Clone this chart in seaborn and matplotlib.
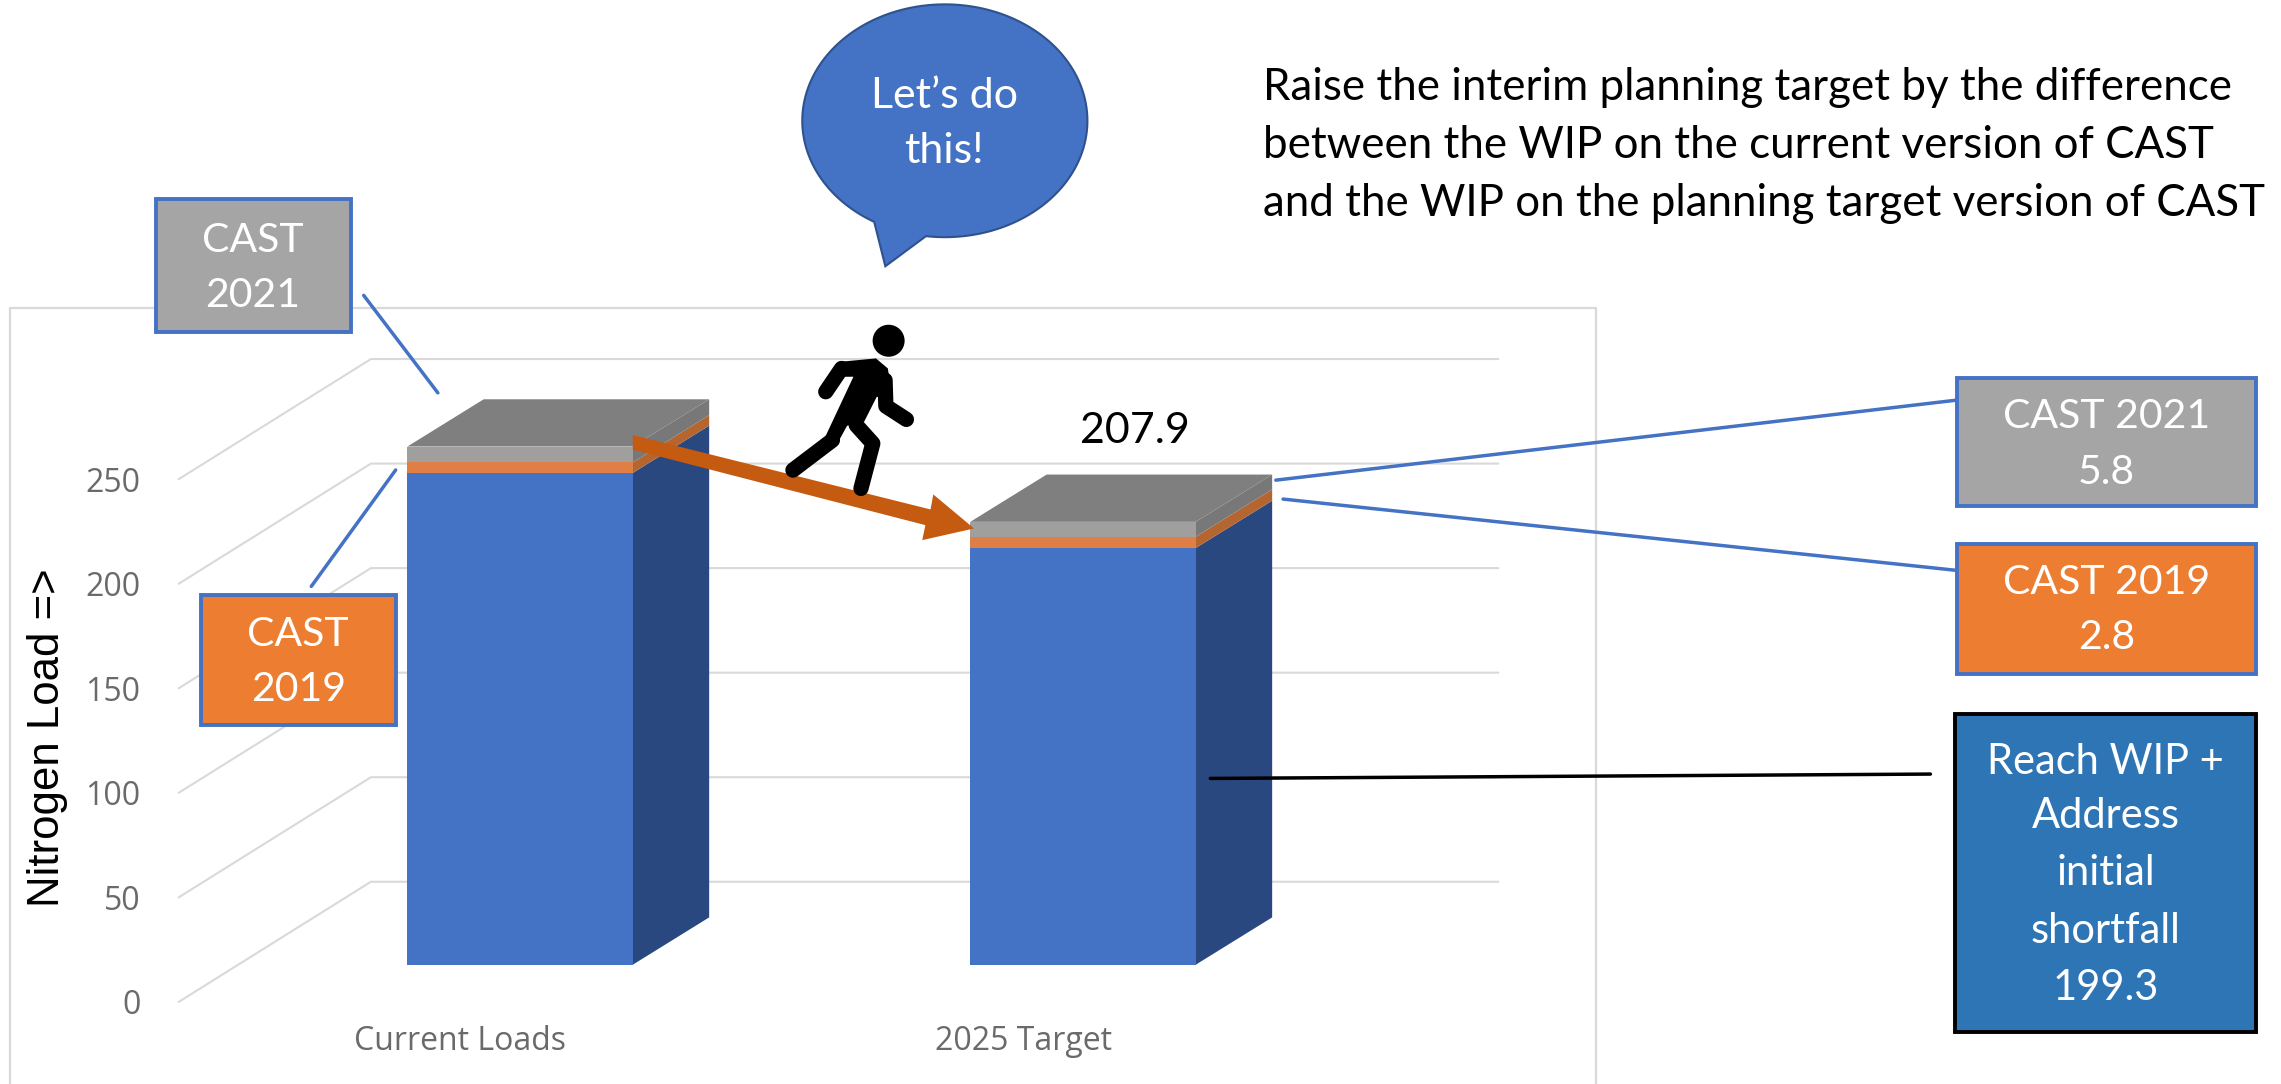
import numpy as np
import matplotlib
matplotlib.use("Agg")
import matplotlib.pyplot as plt
from matplotlib.patches import Rectangle, Circle, Polygon
import seaborn as sns

# ---- data ----
categories = ["Current Loads", "2025 Target"]
reach_wip = [235.2, 199.3]
cast_2019 = [5.0, 5.4]
cast_2021 = [7.6, 7.1]
y_ticks = [0, 50, 100, 150, 200, 250]
total_label = "207.9"

# ---- style ----
BLUE, ORANGE, GREY = "#4472C4", "#DF7F45", "#A09F9D"
SIDE_BLUE, SIDE_ORANGE, SIDE_GREY, TOP_GREY = "#2A4880", "#B5652F", "#787878", "#7F7F7F"
GRID = "#D9D9D9"
TXT = "Lato"
W, H = 1568.0, 745.0       # layout units: reference width/height at the scale used for the layout

sns.set_style("white")
plt.rcParams["font.family"] = [TXT, "DejaVu Sans"]
fig = plt.figure(figsize=(22.81, 10.84), dpi=100, facecolor="white")

# chart axes: position chosen so bar base / scale match the reference
L, R, T, B = 110, 1040, 200, 700
ax = fig.add_axes([L / W, 1 - B / H, (R - L) / W, (B - T) / H], zorder=1)
ax.patch.set_visible(False)
X0, CAT_STEP = 357.5, 387.0   # layout x of category 0, spacing
Y0, PER_UNIT = 663.0, 1.437   # layout y of value 0, layout units per value unit
BAR_W = 155.0 / CAT_STEP
DX, DY = 52.5 / CAT_STEP, 32.5 / PER_UNIT            # bar depth
WALL_Y = (Y0 - 606.0) / PER_UNIT                     # back wall shift
FRONT_Y = -(688.6 - Y0) / PER_UNIT                   # front end of gridlines
WALL_X0 = (255.0 - X0) / CAT_STEP
FRONT_X0 = (122.8 - X0) / CAT_STEP
WALL_X1 = (1030.0 - X0) / CAT_STEP

blue = np.array(reach_wip)
orange_top = blue + np.array(cast_2019)
grey_top = orange_top + np.array(cast_2021)

# stacked front faces, tallest first
sns.barplot(x=categories, y=grey_top, color=GREY, saturation=1, width=BAR_W, linewidth=0, zorder=3, ax=ax)
sns.barplot(x=categories, y=orange_top, color=ORANGE, saturation=1, width=BAR_W, linewidth=0, zorder=3.1, ax=ax)
sns.barplot(x=categories, y=blue, color=BLUE, saturation=1, width=BAR_W, linewidth=0, zorder=3.2, ax=ax)

ax.set_xlim((L - X0) / CAT_STEP, (R - X0) / CAT_STEP)
ax.set_ylim((Y0 - B) / PER_UNIT, (Y0 - T) / PER_UNIT)

# gridlines on the floor edge and back wall
for v in y_ticks:
    ax.plot([FRONT_X0, WALL_X0, WALL_X1], [v + FRONT_Y, v + WALL_Y, v + WALL_Y],
            color=GRID, lw=1.5, zorder=1, clip_on=False, solid_joinstyle="miter")

# side and top faces
for i in range(len(categories)):
    xr = i + BAR_W / 2
    xl = i - BAR_W / 2
    for lo, hi, c in [(0, blue[i], SIDE_BLUE), (blue[i], orange_top[i], SIDE_ORANGE), (orange_top[i], grey_top[i], SIDE_GREY)]:
        ax.fill([xr, xr + DX, xr + DX, xr], [lo, lo + DY, hi + DY, hi], color=c, lw=0, zorder=2.5)
    t = grey_top[i]
    ax.fill([xl, xr, xr + DX, xl + DX], [t, t, t + DY, t + DY], color=TOP_GREY, lw=0, zorder=2.5)

# axes furniture
sns.despine(ax=ax, left=True, bottom=True)
ax.set_yticks([v + FRONT_Y for v in y_ticks], labels=[str(v) for v in y_ticks])
ax.set_xticks([-41.0 / CAT_STEP, 1 - 41.0 / CAT_STEP], labels=categories)
ax.tick_params(axis="both", length=0, labelsize=23, labelcolor="#6A6A6A")
ax.tick_params(axis="y", pad=14)
ax.tick_params(axis="x", pad=5)
for lab in ax.get_xticklabels() + ax.get_yticklabels():
    lab.set_fontfamily("Open Sans")
ax.set_ylabel("Nitrogen Load =>", fontsize=31.5, family="Liberation Sans", color="black")
ax.yaxis.set_label_coords((47 - L) / (R - L), (B - 507) / (B - T))

# overlay in layout units for callouts
ov = fig.add_axes([0, 0, 1, 1], zorder=2)
ov.set_xlim(0, W)
ov.set_ylim(H, 0)
ov.set_axis_off()

# chart frame
ov.plot([7, 7, 1097, 1097], [H + 5, 212, 212, H + 5], color=GRID, lw=1.6, zorder=1)


def box(x0, y0, x1, y1, fc, ec, lines, ys, size=29.5):
    ov.add_patch(Rectangle((x0, y0), x1 - x0, y1 - y0, fc=fc, ec=ec, lw=2.8, zorder=5))
    for s, y in zip(lines, ys):
        ov.text((x0 + x1) / 2, y, s, color="white", fontsize=size, ha="center", va="center", zorder=6)


box(107, 137, 241, 228, "#A5A5A5", BLUE, ["CAST", "2021"], [165, 203])
box(138, 409, 272, 498, "#ED7D31", BLUE, ["CAST", "2019"], [436, 474])
box(1345, 260, 1551, 348, "#A5A5A5", BLUE, ["CAST 2021", "5.8"], [286, 325])
box(1345, 374, 1551, 463, "#ED7D31", BLUE, ["CAST 2019", "2.8"], [400, 438])
box(1344, 491, 1551, 709, "#2E75B6", "black", ["Reach WIP +", "Address", "initial", "shortfall", "199.3"],
    [524, 561, 600, 640, 679], size=30)

# leader lines
for (xa, ya, xb, yb) in [(250, 203, 301, 270), (272, 323, 214, 403), (877, 330, 1345, 275), (882, 343, 1345, 392)]:
    ov.plot([xa, xb], [ya, yb], color=BLUE, lw=2.5, zorder=4)
ov.plot([832, 1327], [535, 532], color="black", lw=2.5, zorder=4)

# speech bubble: ellipse outline walked from just past the tail, then the tail tip
cx, cy, rx, ry = 649.5, 83.0, 98.0, 80.0
a0, a1 = np.radians(97.6), np.radians(119.7)
ang = np.linspace(a1, a0 + 2 * np.pi, 240)
pts = np.column_stack([cx + rx * np.cos(ang), cy + ry * np.sin(ang)])
pts = np.vstack([pts, [[608.6, 183]]])
ov.add_patch(Polygon(pts, closed=True, fc=BLUE, ec="#2F528F", lw=1.5, zorder=5))
ov.text(649, 66, "Let’s do", color="white", fontsize=31, ha="center", va="center", zorder=6)
ov.text(649, 104, "this!", color="white", fontsize=31, ha="center", va="center", zorder=6)

# note
for s, y in zip(["Raise the interim planning target by the difference",
                 "between the WIP on the current version of CAST",
                 "and the WIP on the planning target version of CAST"], [60, 100, 140]):
    ov.text(868, y, s, color="black", fontsize=31.6, ha="left", va="center", zorder=6)

ov.text(780, 296, total_label, color="black", fontsize=31, ha="center", va="center", zorder=6)


# walker / arrow helper: from crop coordinates of the reference to layout units
def z(px, py):
    return (700 + px / 2.529) / 1.4547, (280 + py / 3.0) / 1.4547


# arrow
ov.add_patch(Polygon([(435, 299), z(583, 688), z(590, 643), z(693, 745), z(562, 780), z(570, 735), (435, 309)],
                     closed=True, fc="#C55A11", ec="none", zorder=7))


def limb(points, lw=11):
    xy = [z(*p) for p in points]
    ov.plot([p[0] for p in xy], [p[1] for p in xy], color="black", lw=lw, solid_capstyle="round",
            solid_joinstyle="round", zorder=8)


ov.add_patch(Circle(z(477, 182), 11, fc="black", ec="none", zorder=8))
ov.add_patch(Polygon([z(*p) for p in [(355, 245), (445, 235), (475, 265), (487, 360), (447, 350), (415, 425),
                                      (372, 437), (345, 495), (316, 472), (388, 290), (355, 290)]],
                     closed=True, fc="black", ec="none", zorder=8))
limb([(358, 265), (318, 335)])
limb([(468, 300), (470, 378), (522, 418)])
limb([(335, 480), (235, 570)])
limb([(395, 435), (437, 490), (407, 625)])

fig.savefig("out.png", dpi=100, facecolor="white")
